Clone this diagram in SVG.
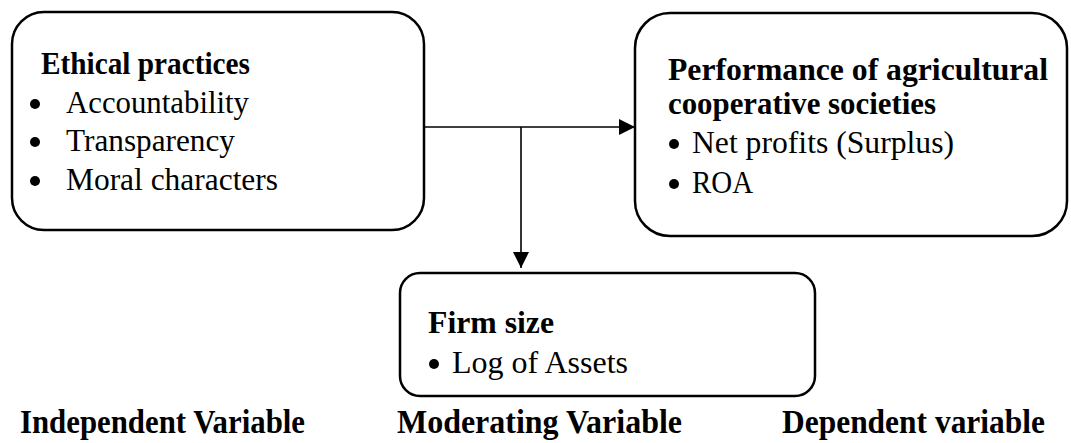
<svg xmlns="http://www.w3.org/2000/svg" width="1071" height="443" viewBox="0 0 1071 443">
  <defs>
    <style>
      .box { fill: #fff; stroke: #000; stroke-width: 2.5; }
      .link { fill: none; stroke: #000; stroke-width: 1.6; }
      text { font-family: "Liberation Serif", "Times New Roman", serif; fill: #000; }
      .head { font-weight: bold; font-size: 32px; }
      .item { font-size: 32px; }
      .label { font-weight: bold; font-size: 33px; }
      .dot { fill: #000; }
    </style>
    <marker id="arrow" viewBox="0 0 16 16" refX="16" refY="8" markerWidth="16" markerHeight="16" markerUnits="userSpaceOnUse" orient="auto">
      <path d="M0,0 L16,8 L0,16 Z" fill="#000"/>
    </marker>
  </defs>

  <rect width="1071" height="443" fill="#fff"/>

  <!-- Independent variable -->
  <g id="node-ethical">
    <rect class="box" x="12" y="12" width="412" height="218" rx="32" ry="32"/>
    <text class="head" x="41" y="74" textLength="209" lengthAdjust="spacingAndGlyphs">Ethical practices</text>
    <circle class="dot" cx="35" cy="104" r="5"/>
    <text class="item" x="66" y="113" textLength="183" lengthAdjust="spacingAndGlyphs">Accountability</text>
    <circle class="dot" cx="35" cy="142" r="5"/>
    <text class="item" x="66" y="151" textLength="169" lengthAdjust="spacingAndGlyphs">Transparency</text>
    <circle class="dot" cx="35" cy="181" r="5"/>
    <text class="item" x="66" y="190" textLength="212" lengthAdjust="spacingAndGlyphs">Moral characters</text>
  </g>

  <!-- Dependent variable -->
  <g id="node-performance">
    <rect class="box" x="635" y="13" width="432" height="223" rx="35" ry="35"/>
    <text class="head" x="668" y="80" textLength="380" lengthAdjust="spacingAndGlyphs">Performance of agricultural</text>
    <text class="head" x="668" y="114" textLength="268" lengthAdjust="spacingAndGlyphs">cooperative societies</text>
    <circle class="dot" cx="674" cy="144" r="5"/>
    <text class="item" x="692" y="153" textLength="262" lengthAdjust="spacingAndGlyphs">Net profits (Surplus)</text>
    <circle class="dot" cx="674" cy="184" r="5"/>
    <text class="item" x="692" y="193" textLength="61" lengthAdjust="spacingAndGlyphs">ROA</text>
  </g>

  <!-- Moderating variable -->
  <g id="node-firmsize">
    <rect class="box" x="400" y="273" width="415" height="123" rx="20" ry="20"/>
    <text class="head" x="428" y="333" textLength="126" lengthAdjust="spacingAndGlyphs">Firm size</text>
    <circle class="dot" cx="434" cy="364" r="5"/>
    <text class="item" x="452" y="373" textLength="176" lengthAdjust="spacingAndGlyphs">Log of Assets</text>
  </g>

  <!-- Column captions -->
  <g id="captions">
    <text class="label" x="20" y="433" textLength="285" lengthAdjust="spacingAndGlyphs">Independent Variable</text>
    <text class="label" x="397" y="433" textLength="285" lengthAdjust="spacingAndGlyphs">Moderating Variable</text>
    <text class="label" x="782" y="433" textLength="263" lengthAdjust="spacingAndGlyphs">Dependent variable</text>
  </g>

  <!-- Connectors -->
  <g id="connectors">
    <line class="link" x1="424" y1="127" x2="635" y2="127" marker-end="url(#arrow)"/>
    <line class="link" x1="521" y1="127" x2="521" y2="268" marker-end="url(#arrow)"/>
  </g>
</svg>
